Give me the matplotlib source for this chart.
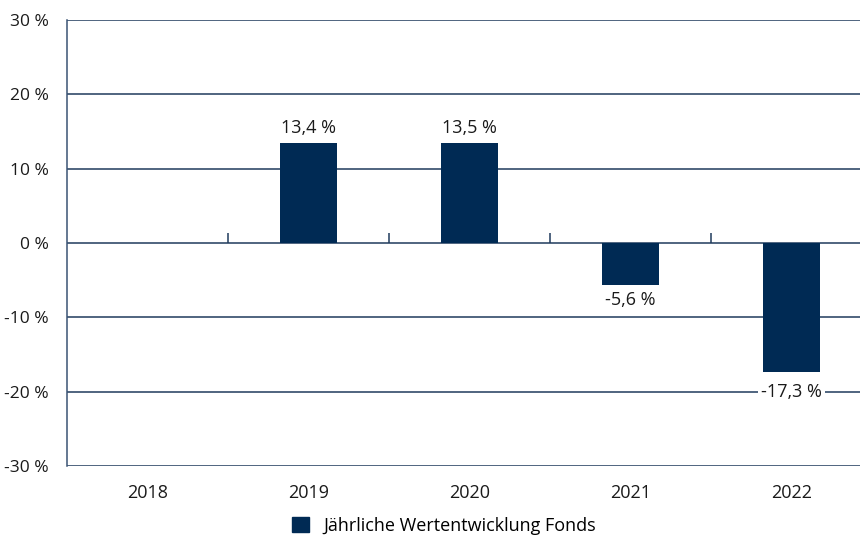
import matplotlib.pyplot as plt
import numpy as np
from matplotlib.patches import Patch

years = ["2018", "2019", "2020", "2021", "2022"]
values = [np.nan, 13.4, 13.5, -5.6, -17.3]
labels = ["", "13,4 %", "13,5 %", "-5,6 %", "-17,3 %"]
yticks = [-30, -20, -10, 0, 10, 20, 30]

bar_color = "#002a54"
line_color = "#1f3a5c"
text_color = "#1a1a1a"

plt.rcParams["font.family"] = ["Open Sans", "DejaVu Sans"]

fig = plt.figure(figsize=(8.6, 5.39), dpi=100)
ax = fig.add_axes([67 / 860, 1 - 466 / 539, 1 - 67 / 860, (466 - 20) / 539])

x = np.arange(len(years))
ax.set_xlim(-0.5, 4.425)
ax.set_ylim(-30, 30)

for y in yticks:
    ax.axhline(y, color=line_color, lw=1.1, zorder=1)

ax.bar(x, values, width=0.35, color=bar_color, zorder=3)

# small separators on the zero line between categories
ax.vlines(x[:-1] + 0.5, 0, 1.35, color=line_color, lw=1.1, zorder=2)

for xi, v, lab in zip(x, values, labels):
    if np.isnan(v):
        continue
    if v >= 0:
        ax.text(xi, v + 0.8, lab, ha="center", va="bottom", fontsize=13, color=text_color, zorder=4)
    elif v > -10:
        ax.text(xi, v - 0.9, lab, ha="center", va="top", fontsize=13, color=text_color, zorder=4)
    else:
        ax.text(xi, -20, lab, ha="center", va="center", fontsize=13, color=text_color, zorder=4,
                bbox=dict(facecolor="white", edgecolor="none", pad=2))

ax.set_xticks(x)
ax.set_xticklabels(years, fontsize=13, color=text_color)
ax.set_yticks(yticks)
ax.set_yticklabels([f"{t} %" for t in yticks], fontsize=12.5, color=text_color)
ax.tick_params(axis="y", length=0, pad=13)
ax.tick_params(axis="x", length=0, pad=13)

for side in ["top", "right", "bottom"]:
    ax.spines[side].set_visible(False)
ax.spines["left"].set_color("#3a5474")
ax.spines["left"].set_linewidth(1.1)

handle = Patch(facecolor=bar_color, edgecolor=bar_color)
fig.legend([handle], ["Jährliche Wertentwicklung Fonds"], loc="center",
           bbox_to_anchor=(444 / 860, 1 - 526 / 539), frameon=False, fontsize=13,
           handlelength=0.9, handleheight=0.9, handletextpad=0.8,
           borderpad=0.2)

fig.savefig("out.png", dpi=100)
